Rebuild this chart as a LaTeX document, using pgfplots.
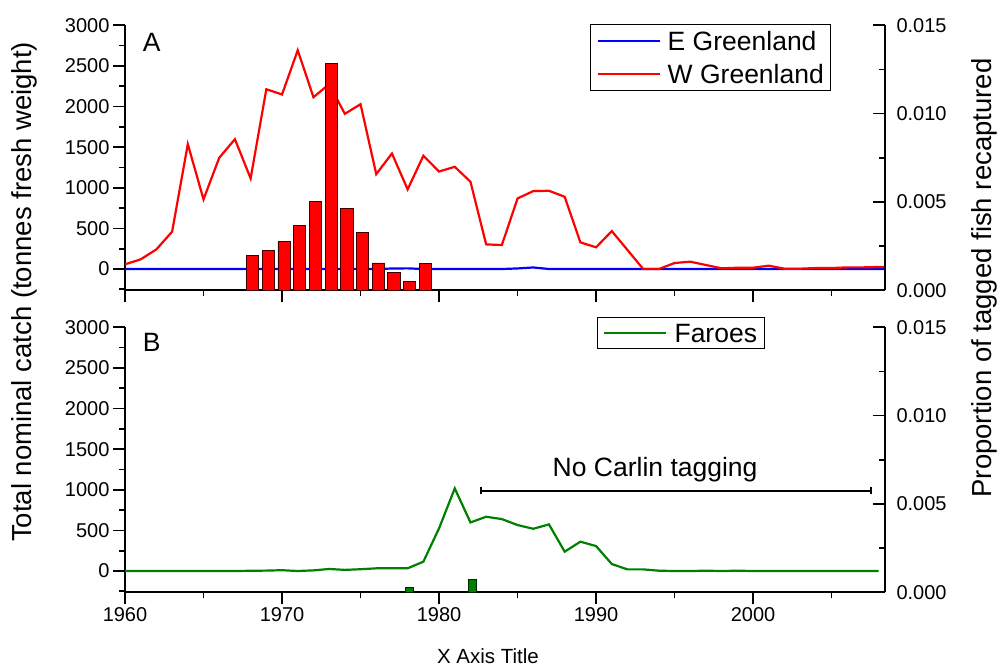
\documentclass[border=0pt]{standalone}
\usepackage{fontspec}
\setmainfont{Liberation Sans}
\usepackage{pgfplots}
\usepackage{pgfplotstable}
\pgfplotsset{compat=1.18}
\usetikzlibrary{arrows.meta}

\definecolor{fgreen}{RGB}{0,128,0}

% catch data (tonnes)
\pgfplotstableread{
year west east
1960 58 0
1961 119 0
1962 242 0
1963 459 0
1964 1537 0
1965 857 0
1966 1369 0
1967 1598 0
1968 1115 0
1969 2213 0
1970 2148 0
1971 2693 0
1972 2115 0
1973 2275 0
1974 1910 0
1975 2029 0
1976 1168 0
1977 1422 6
1978 980 8
1979 1394 0
1980 1200 0
1981 1258 0
1982 1074 0
1983 303 0
1984 295 0
1985 869 7
1986 959 19
1987 963 0
1988 889 0
1989 328 0
1990 267 0
1991 467 0
1992 234 0
1993 0 0
1994 0 0
1995 74 0
1996 90 0
1997 49 0
1998 8 0
1999 16 0
2000 16 0
2001 41 0
2002 4 0
2003 4 0
2004 12 0
2005 12 0
2006 20 0
2007 20 0
2008 25 0
2009 28 0
}\greenland

\pgfplotstableread{
year faroes
1960 0
1961 0
1962 0
1963 0
1964 0
1965 0
1966 0
1967 0
1968 3
1969 5
1970 10
1971 0
1972 8
1973 25
1974 14
1975 22
1976 33
1977 33
1978 33
1979 115
1980 525
1981 1017
1982 598
1983 668
1984 639
1985 566
1986 520
1987 574
1988 238
1989 361
1990 307
1991 86
1992 20
1993 20
1994 4
1995 0
1996 0
1997 4
1998 0
1999 4
2000 0
2001 0
2002 0
2003 0
2004 0
2005 0
2006 0
2007 0
2008 0
}\faroes

% proportion of tagged fish recaptured
\pgfplotstableread{
year prop
1968 0.00198
1969 0.00228
1970 0.00274
1971 0.00368
1972 0.00504
1973 0.01284
1974 0.00462
1975 0.00325
1976 0.00155
1977 0.00102
1978 0.00049
1979 0.00151
}\recapW

\pgfplotstableread{
year prop
1978 0.00028
1982 0.00075
}\recapF

\newcommand{\bigfont}{\fontsize{26.5}{30}\selectfont}

\pgfplotsset{
  panel/.style={
    scale only axis, width=760pt, height=265pt,
    xmin=1960, xmax=2008.4,
    /pgf/number format/1000 sep={},
    /pgf/number format/assume math mode=true,
    tick label style={font=\fontsize{20}{24}\selectfont},
    major tick length=12pt, minor tick length=6pt,
    tick style={line width=1.7pt, black},
    axis line style={-, line width=1.7pt},
  },
  catch/.style={
    panel,
    ymin=-262, ymax=3000,
    ytick={0,500,...,3000}, minor ytick={-250,250,...,2750},
    xtick={1960,1970,...,2000}, minor xtick={1965,1975,...,2005},
    axis x line*=bottom, axis y line*=left, tick align=outside,
    legend cell align=left,
    legend image code/.code={\draw[##1, line width=2.2pt] (0pt,0pt) -- (62pt,0pt);},
  },
  recap/.style={
    panel,
    ymin=0, ymax=0.015,
    ytick={0,0.005,0.01,0.015}, minor ytick={0.0025,0.0075,0.0125},
    axis y line*=right, axis x line=none, tick align=inside,
    scaled y ticks=false,
    yticklabel style={xshift=8pt, /pgf/number format/.cd, fixed, fixed zerofill, precision=3},
  },
}

\begin{document}
\begin{tikzpicture}

% ---- panel A ----
\begin{axis}[catch, at={(125pt,378.7pt)}, anchor=south west,
    xticklabels={},
    legend style={at={(0.612,1.003)}, anchor=north west, draw=black,
      line width=0.8pt, font=\bigfont, inner xsep=6pt, inner ysep=5pt,
      row sep=10pt,
      nodes={inner sep=1pt, text height=20pt, text depth=1pt},
      /tikz/every odd column/.append style={column sep=6pt}},
  ]
  \addplot[blue, line width=2.2pt] table[x=year, y=east] {\greenland};
  \addlegendentry{E Greenland}
  \addplot[red, line width=2.2pt] table[x=year, y=west] {\greenland};
  \addlegendentry{W Greenland}
  \node[font=\bigfont] at (rel axis cs:0.035,0.937) {A};
\end{axis}
\begin{axis}[recap, at={(125pt,378.7pt)}, anchor=south west]
  \addplot[ybar, bar width=0.78, bar shift=2pt, fill=red,
    draw=black!75!red, line width=0.8pt] table[x=year, y=prop] {\recapW};
\end{axis}

% ---- panel B ----
\begin{axis}[catch, at={(125pt,76.7pt)}, anchor=south west,
    legend style={at={(0.621,1.038)}, anchor=north west, draw=black,
      line width=0.8pt, font=\bigfont, inner xsep=6pt, inner ysep=4pt,
      nodes={inner sep=1pt, text height=20pt, text depth=1pt},
      /tikz/every odd column/.append style={column sep=6pt}},
  ]
  \addplot[fgreen, line width=2.2pt] table[x=year, y=faroes] {\faroes};
  \addlegendentry{Faroes}
  \node[font=\bigfont] at (rel axis cs:0.035,0.944) {B};
  \draw[line width=2pt, {Bar[width=7pt]}-{Bar[width=7pt]}]
    (axis cs:1982.6,985) -- (axis cs:2007.6,985);
  \node[font=\bigfont] at (axis cs:1993.76,1242) {No Carlin tagging};
\end{axis}
\begin{axis}[recap, at={(125pt,76.7pt)}, anchor=south west]
  \addplot[ybar, bar width=0.48, bar shift=2pt, fill=fgreen,
    draw=black!70!fgreen, line width=0.8pt] table[x=year, y=prop] {\recapF};
\end{axis}

% ---- axis titles ----
\node[rotate=90, font=\fontsize{27.5}{30}\selectfont] at (24pt,377pt)
  {Total nominal catch (tonnes fresh weight)};
\node[rotate=90, font=\fontsize{27.5}{30}\selectfont] at (984pt,391pt)
  {Proportion of tagged fish recaptured};
\node[anchor=north, inner sep=0pt, font=\fontsize{20.5}{24}\selectfont]
  at (488pt,21pt) {X Axis Title};

\pgfresetboundingbox
\path[use as bounding box] (0,0) rectangle (1000pt,669pt);
\end{tikzpicture}
\end{document}
